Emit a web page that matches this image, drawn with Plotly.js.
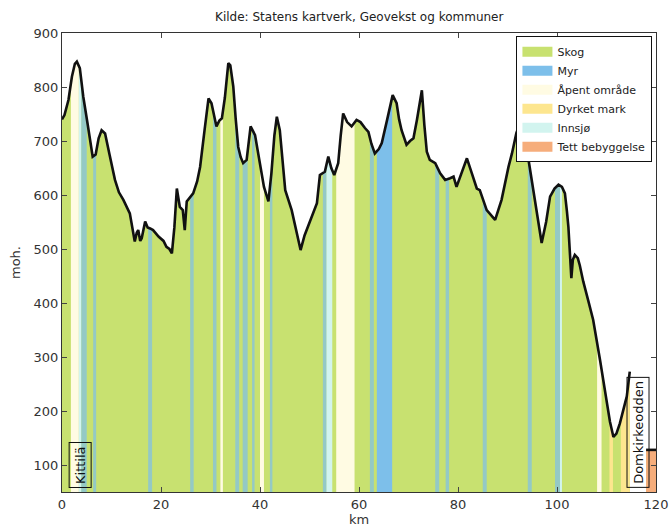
<!DOCTYPE html>
<html><head><meta charset="utf-8">
<script src="https://cdn.plot.ly/plotly-3.0.1.min.js"></script>
<style>html,body{margin:0;padding:0;background:#fff}</style>
</head><body><div id="chart" style="width:669px;height:529px"></div>
<script>
// Elevation profile (km, moh.)
const profileKm = [0,0.5,1.3,2.0,2.6,3.0,3.6,4.3,5.2,6.2,6.8,7.4,8.0,8.7,9.6,10.7,11.5,12.4,13.7,14.2,14.7,15.1,15.4,15.8,16.1,16.8,17.3,17.8,18.4,19.5,20.5,21.1,21.7,22.2,22.7,23.2,23.8,24.4,24.8,25.2,26.5,27.3,27.9,28.8,29.6,30.2,30.7,31.2,31.8,32.3,32.9,33.6,34.0,34.6,35.1,35.6,36.1,36.6,37.3,37.7,38.1,39.0,39.5,40.0,40.8,41.7,42.3,42.9,43.4,44.0,44.6,45.1,46.4,47.3,48.2,49.0,49.8,50.6,51.5,52.1,53.1,53.8,54.4,55.0,55.8,56.3,56.8,57.6,58.5,59.5,60.3,61.2,61.9,62.5,63.2,64.0,64.6,65.7,66.8,67.6,68.1,68.6,69.6,70.3,71.0,71.7,72.7,73.2,73.7,74.3,75.4,76.4,77.4,78.4,79.1,79.7,80.7,81.8,82.8,83.8,84.4,85.1,85.8,87.5,88.8,90.2,90.9,91.8,92.6,93.3,94.0,95.4,96.9,97.8,98.6,99.5,100.3,101.0,101.6,102.0,102.3,102.9,103.2,103.6,104.2,104.6,105.3,106.3,107.3,108.7,110.0,110.7,111.4,112.0,112.7,114.1,114.7];
const profileMoh = [740,748,776,819,843,847,835,782,730,671,675,705,720,714,675,628,605,591,566,540,514,530,535,515,520,551,540,538,535,523,515,504,500,492,540,612,578,572,535,588,603,625,652,720,779,770,745,727,738,742,780,844,840,801,740,689,670,659,665,700,727,711,685,652,615,588,640,710,745,720,660,609,572,535,498,525,544,562,585,637,643,671,650,637,659,710,751,735,727,739,735,724,717,695,677,685,696,740,785,770,740,720,693,700,705,739,794,730,680,665,659,640,628,631,634,615,640,668,640,612,609,590,572,554,591,652,677,715,735,720,678,595,511,550,597,612,619,615,603,570,541,446,480,489,483,470,440,405,369,294,214,180,152,158,177,227,273];
const endKm = [118.0, 120.0];
const endMoh = [128, 128];

// Land cover classes and their stretches along the route (km)
const classNames = ['Skog','Myr','Åpent område','Dyrket mark','Innsjø','Tett bebyggelse'];
const skogStart = [0, 118.0];
const skogEnd   = [114.7, 120.0];
const myrStart = [3.9,6.3,17.4,25.9,30.5,35.0,36.5,38.4,42.0,52.7,62.2,63.6,75.4,77.5,85.0,94.1,99.6];
const myrEnd   = [5.0,6.9,18.2,26.6,31.2,35.8,37.5,38.9,42.5,53.4,63.0,66.7,76.2,78.2,85.8,94.9,100.6];
const apentStart = [1.8,32.0,40.0,55.4,108.1];
const apentEnd   = [3.4,32.5,40.8,59.1,109.0];
const dyrketStart = [110.6,112.9];
const dyrketEnd   = [111.3,114.7];
const innsjoStart = [3.4,53.4,100.6];
const innsjoEnd   = [3.9,54.6,101.0];
const tettStart = [118.0];
const tettEnd   = [120.0];

const places = ['Kittilä','Domkirkeodden'];
const placeKm = [3.7, 116.3];

const colors = {
  'Skog':'#c8e170','Myr':'#7dbfea','Åpent område':'#fffbe3',
  'Dyrket mark':'#fde68f','Innsjø':'#d2f4ef','Tett bebyggelse':'#f6ad7b'
};
const BASE = 0;
const parts = [[profileKm, profileMoh],[endKm, endMoh]];

function interp(xs, ys, x){
  for (let i=0;i<xs.length-1;i++){
    if (x>=xs[i] && x<=xs[i+1]){
      const t=(x-xs[i])/(xs[i+1]-xs[i]); return ys[i]+t*(ys[i+1]-ys[i]);
    }
  }
  return ys[ys.length-1];
}
function polys(starts, ends){
  const px=[], py=[];
  for (let s=0;s<starts.length;s++){
    for (const [xs, ys] of parts){
      const a=Math.max(starts[s], xs[0]), b=Math.min(ends[s], xs[xs.length-1]);
      if (b<=a) continue;
      px.push(a,a); py.push(BASE, interp(xs,ys,a));
      for (let i=0;i<xs.length;i++){ if (xs[i]>a && xs[i]<b){ px.push(xs[i]); py.push(ys[i]); } }
      px.push(b,b); py.push(interp(xs,ys,b), BASE);
      px.push(null); py.push(null);
    }
  }
  return {px, py};
}
function areaTrace(name, starts, ends, opacity){
  const p = polys(starts, ends);
  return {x:p.px, y:p.py, type:'scatter', mode:'lines', fill:'toself', opacity:opacity||1,
    fillcolor:colors[name], line:{width:0, color:colors[name]}, name:name,
    showlegend:false, hoverinfo:'skip', connectgaps:false};
}
// split Myr stretches by width: narrow stretches render softer (as blurred in the reference)
const myrNarrowS=[], myrNarrowE=[], myrWideS=[], myrWideE=[];
myrStart.forEach((s,i)=>{ if (myrEnd[i]-s < 1.5){ myrNarrowS.push(s); myrNarrowE.push(myrEnd[i]); } else { myrWideS.push(s); myrWideE.push(myrEnd[i]); } });

const traces = [
  areaTrace('Skog', skogStart, skogEnd),
  areaTrace('Åpent område', apentStart, apentEnd),
  areaTrace('Dyrket mark', dyrketStart, dyrketEnd),
  areaTrace('Innsjø', innsjoStart, innsjoEnd),
  areaTrace('Myr', myrNarrowS, myrNarrowE, 0.7),
  areaTrace('Myr', myrWideS, myrWideE),
  areaTrace('Tett bebyggelse', tettStart, tettEnd),
  {x: profileKm.concat([null], endKm), y: profileMoh.concat([null], endMoh),
   type:'scatter', mode:'lines', line:{color:'#111', width:2.6}, showlegend:false,
   hoverinfo:'skip', connectgaps:false}
];
// legend entries
classNames.forEach(n=>{
  traces.push({x:[null], y:[null], type:'scatter', mode:'lines', name:n,
    line:{color:colors[n], width:10}, hoverinfo:'skip'});
});

const annotations = places.map((p,i)=>({
  x: placeKm[i], y: 58, xref:'x', yref:'y', text:p, showarrow:false,
  textangle:-90, yanchor:'bottom', xanchor:'center',
  font:{family:'DejaVu Sans', size:13, color:'#111'},
  bordercolor:'#111', borderwidth:1, borderpad:3
}));

const layout = {
  width:669, height:529,
  margin:{l:62, r:13, t:33, b:37},
  paper_bgcolor:'#fff', plot_bgcolor:'#fff',
  font:{family:'DejaVu Sans', color:'#222'},
  title:{text:'Kilde: Statens kartverk, Geovekst og kommuner', font:{size:12, color:'#222'},
    x:0.537, xanchor:'center', y:0.968, yanchor:'middle'},
  xaxis:{range:[0,120], tickvals:[0,20,40,60,80,100,120], ticks:'inside', ticklen:5,
    mirror:'ticks', showline:true, linecolor:'#333', linewidth:1, showgrid:false, zeroline:false,
    tickfont:{size:13, color:'#333'}, title:{text:'km', font:{size:13, color:'#333'}, standoff:2}},
  yaxis:{range:[50,900], tickvals:[100,200,300,400,500,600,700,800,900], ticks:'inside', ticklen:5,
    mirror:'ticks', showline:true, linecolor:'#333', linewidth:1, showgrid:false, zeroline:false,
    tickfont:{size:13, color:'#333'}, title:{text:'moh.', font:{size:13, color:'#333'}, standoff:10}},
  legend:{x:0.994, xanchor:'right', y:0.993, yanchor:'top', bgcolor:'#fff',
    bordercolor:'#111', borderwidth:1, font:{size:11, color:'#222'}, tracegroupgap:0},
  showlegend:true,
  annotations: annotations
};
Plotly.newPlot('chart', traces, layout, {displayModeBar:false, staticPlot:true});
</script></body></html>
